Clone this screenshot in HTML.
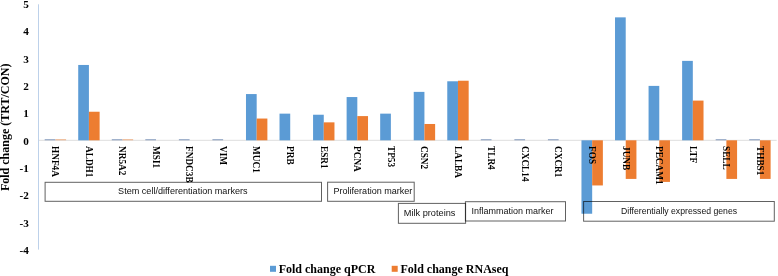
<!DOCTYPE html>
<html><head><meta charset="utf-8"><style>
html,body{margin:0;padding:0;background:#fff;}
body{width:778px;height:276px;overflow:hidden;}
svg{display:block;filter:blur(0.4px);}
.tk{font-family:"Liberation Serif",serif;font-weight:bold;font-size:11.2px;fill:#000;}
.yt{font-family:"Liberation Serif",serif;font-weight:bold;font-size:12px;fill:#000;}
.cl{font-family:"Liberation Serif",serif;font-weight:bold;font-size:10.5px;fill:#000;}
.bx{font-family:"Liberation Sans",sans-serif;font-size:9px;fill:#111;}
.lg{font-family:"Liberation Serif",serif;font-weight:bold;font-size:12px;fill:#000;}
</style></head><body>
<svg width="778" height="276" viewBox="0 0 778 276">
<line x1="38.6" y1="140.3" x2="776.6999999999999" y2="140.3" stroke="#DEDEDE" stroke-width="1"/>
<rect x="44.67" y="139.21" width="10.7" height="1.09" fill="#8A9FC0"/>
<rect x="55.38" y="139.21" width="10.7" height="1.09" fill="#EDB38A"/>
<rect x="78.22" y="64.96" width="10.7" height="75.34" fill="#5B9BD5"/>
<rect x="88.92" y="111.74" width="10.7" height="28.56" fill="#ED7D31"/>
<rect x="111.77" y="139.21" width="10.7" height="1.09" fill="#8A9FC0"/>
<rect x="122.47" y="139.21" width="10.7" height="1.09" fill="#EDB38A"/>
<rect x="145.32" y="139.21" width="10.7" height="1.09" fill="#8A9FC0"/>
<rect x="178.88" y="139.21" width="10.7" height="1.09" fill="#8A9FC0"/>
<rect x="212.42" y="139.21" width="10.7" height="1.09" fill="#8A9FC0"/>
<rect x="245.98" y="94.06" width="10.7" height="46.24" fill="#5B9BD5"/>
<rect x="256.68" y="118.54" width="10.7" height="21.76" fill="#ED7D31"/>
<rect x="279.52" y="113.64" width="10.7" height="26.66" fill="#5B9BD5"/>
<rect x="313.07" y="114.73" width="10.7" height="25.57" fill="#5B9BD5"/>
<rect x="323.77" y="122.35" width="10.7" height="17.95" fill="#ED7D31"/>
<rect x="346.62" y="97.05" width="10.7" height="43.25" fill="#5B9BD5"/>
<rect x="357.32" y="116.09" width="10.7" height="24.21" fill="#ED7D31"/>
<rect x="380.18" y="113.64" width="10.7" height="26.66" fill="#5B9BD5"/>
<rect x="413.73" y="91.88" width="10.7" height="48.42" fill="#5B9BD5"/>
<rect x="424.43" y="123.98" width="10.7" height="16.32" fill="#ED7D31"/>
<rect x="447.27" y="81.28" width="10.7" height="59.02" fill="#5B9BD5"/>
<rect x="457.97" y="80.73" width="10.7" height="59.57" fill="#ED7D31"/>
<rect x="480.82" y="139.21" width="10.7" height="1.09" fill="#8A9FC0"/>
<rect x="514.37" y="139.21" width="10.7" height="1.09" fill="#8A9FC0"/>
<rect x="547.92" y="139.21" width="10.7" height="1.09" fill="#8A9FC0"/>
<rect x="581.47" y="140.30" width="10.7" height="73.44" fill="#5B9BD5"/>
<rect x="592.17" y="140.30" width="10.7" height="45.15" fill="#ED7D31"/>
<rect x="615.02" y="17.36" width="10.7" height="122.94" fill="#5B9BD5"/>
<rect x="625.73" y="140.30" width="10.7" height="38.62" fill="#ED7D31"/>
<rect x="648.57" y="85.90" width="10.7" height="54.40" fill="#5B9BD5"/>
<rect x="659.27" y="140.30" width="10.7" height="41.62" fill="#ED7D31"/>
<rect x="682.12" y="60.88" width="10.7" height="79.42" fill="#5B9BD5"/>
<rect x="692.82" y="100.59" width="10.7" height="39.71" fill="#ED7D31"/>
<rect x="715.67" y="139.21" width="10.7" height="1.09" fill="#8A9FC0"/>
<rect x="726.38" y="140.30" width="10.7" height="38.62" fill="#ED7D31"/>
<rect x="749.22" y="139.21" width="10.7" height="1.09" fill="#8A9FC0"/>
<rect x="759.92" y="140.30" width="10.7" height="38.62" fill="#ED7D31"/>
<line x1="38.5" y1="4.3" x2="38.5" y2="249.6" stroke="#BDD1EA" stroke-width="1"/>
<text x="28.9" y="8.15" text-anchor="end" class="tk">5</text>
<text x="28.9" y="35.46" text-anchor="end" class="tk">4</text>
<text x="28.9" y="62.77" text-anchor="end" class="tk">3</text>
<text x="28.9" y="90.08" text-anchor="end" class="tk">2</text>
<text x="28.9" y="117.39" text-anchor="end" class="tk">1</text>
<text x="28.9" y="144.70" text-anchor="end" class="tk">0</text>
<text x="28.9" y="172.01" text-anchor="end" class="tk">-1</text>
<text x="28.9" y="199.32" text-anchor="end" class="tk">-2</text>
<text x="28.9" y="226.63" text-anchor="end" class="tk">-3</text>
<text x="28.9" y="253.94" text-anchor="end" class="tk">-4</text>
<text transform="translate(9,127.3) rotate(-90)" text-anchor="middle" class="yt">Fold change (TRT/CON)</text>
<text transform="translate(52.17,146) rotate(90) scale(0.885,1)" class="cl">HNF4A</text>
<text transform="translate(85.72,146) rotate(90) scale(0.885,1)" class="cl">ALDH1</text>
<text transform="translate(119.27,146) rotate(90) scale(0.885,1)" class="cl">NR5A2</text>
<text transform="translate(152.82,146) rotate(90) scale(0.885,1)" class="cl">MSI1</text>
<text transform="translate(186.38,146) rotate(90) scale(0.885,1)" class="cl">FNDC3B</text>
<text transform="translate(219.92,146) rotate(90) scale(0.885,1)" class="cl">VIM</text>
<text transform="translate(253.48,146) rotate(90) scale(0.885,1)" class="cl">MUC1</text>
<text transform="translate(287.02,146) rotate(90) scale(0.885,1)" class="cl">PRB</text>
<text transform="translate(320.57,146) rotate(90) scale(0.885,1)" class="cl">ESR1</text>
<text transform="translate(354.12,146) rotate(90) scale(0.885,1)" class="cl">PCNA</text>
<text transform="translate(387.68,146) rotate(90) scale(0.885,1)" class="cl">TP53</text>
<text transform="translate(421.23,146) rotate(90) scale(0.885,1)" class="cl">CSN2</text>
<text transform="translate(454.77,146) rotate(90) scale(0.885,1)" class="cl">LALBA</text>
<text transform="translate(488.32,146) rotate(90) scale(0.885,1)" class="cl">TLR4</text>
<text transform="translate(521.87,146) rotate(90) scale(0.885,1)" class="cl">CXCL14</text>
<text transform="translate(555.42,146) rotate(90) scale(0.885,1)" class="cl">CXCR1</text>
<text transform="translate(588.97,146) rotate(90) scale(0.885,1)" class="cl">FOS</text>
<text transform="translate(622.52,146) rotate(90) scale(0.885,1)" class="cl">JUNB</text>
<text transform="translate(656.07,146) rotate(90) scale(0.885,1)" class="cl">PECAM1</text>
<text transform="translate(689.62,146) rotate(90) scale(0.885,1)" class="cl">LTF</text>
<text transform="translate(723.17,146) rotate(90) scale(0.885,1)" class="cl">SELL</text>
<text transform="translate(756.72,146) rotate(90) scale(0.885,1)" class="cl">THBS1</text>
<rect x="45.1" y="182.3" width="276.40" height="19.00" fill="none" stroke="#000" stroke-opacity="0.62" stroke-width="1"/>
<text x="118.10" y="193.7" textLength="129.5" lengthAdjust="spacingAndGlyphs" class="bx">Stem cell/differentiation markers</text>
<rect x="327.6" y="182.2" width="86.60" height="19.10" fill="none" stroke="#000" stroke-opacity="0.62" stroke-width="1"/>
<text x="333.50" y="193.5" textLength="78.8" lengthAdjust="spacingAndGlyphs" class="bx">Proliferation marker</text>
<rect x="398.4" y="203.4" width="67.20" height="19.90" fill="none" stroke="#000" stroke-opacity="0.62" stroke-width="1"/>
<text x="403.80" y="215.5" textLength="51.6" lengthAdjust="spacingAndGlyphs" class="bx">Milk proteins</text>
<rect x="465.4" y="201.7" width="100.10" height="19.30" fill="none" stroke="#000" stroke-opacity="0.62" stroke-width="1"/>
<text x="471.60" y="214.0" textLength="81.8" lengthAdjust="spacingAndGlyphs" class="bx">Inflammation marker</text>
<rect x="583.6" y="201.5" width="190.70" height="19.70" fill="none" stroke="#000" stroke-opacity="0.62" stroke-width="1"/>
<text x="621.10" y="213.8" textLength="116.0" lengthAdjust="spacingAndGlyphs" class="bx">Differentially expressed genes</text>
<rect x="270" y="265.8" width="6" height="6" fill="#5B9BD5"/>
<text x="278.7" y="273.4" class="lg">Fold change qPCR</text>
<rect x="391.7" y="265.8" width="6" height="6" fill="#ED7D31"/>
<text x="400.5" y="273.4" class="lg">Fold change RNAseq</text>
</svg>
</body></html>
